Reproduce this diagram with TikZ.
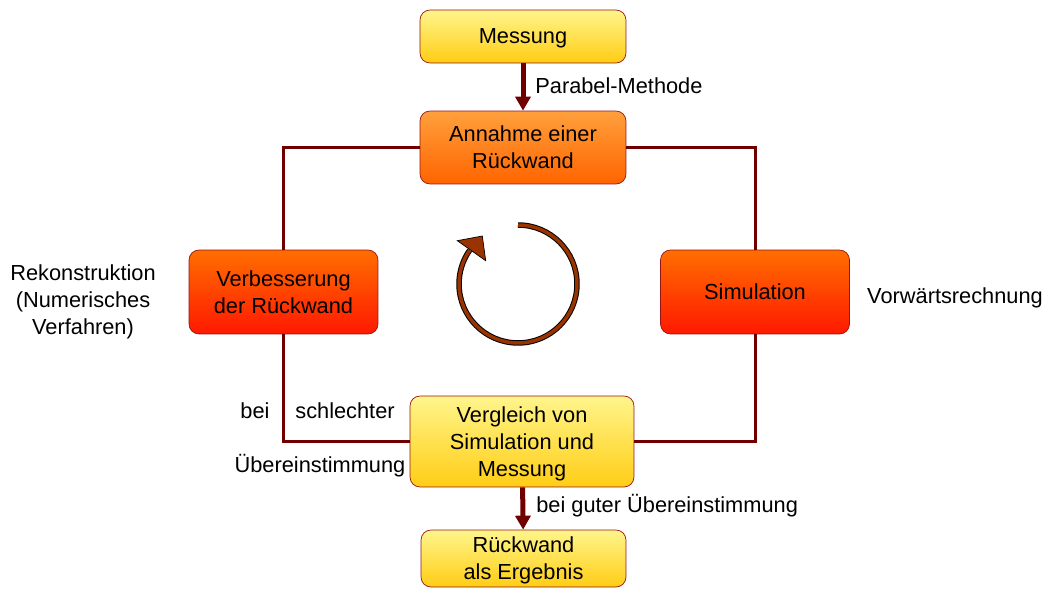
\documentclass[tikz,border=0pt]{standalone}
\usepackage{fontspec}
\setmainfont{Liberation Sans}
\usetikzlibrary{arrows.meta}
\definecolor{linered}{RGB}{112,0,0}
\definecolor{boxedge}{RGB}{150,20,20}
\definecolor{yelltop}{RGB}{255,245,140}
\definecolor{yellbot}{RGB}{255,205,20}
\definecolor{orgtop}{RGB}{255,160,60}
\definecolor{orgbot}{RGB}{255,100,0}
\definecolor{redtop}{RGB}{255,110,0}
\definecolor{redbot}{RGB}{255,25,0}
\definecolor{ringbrown}{RGB}{153,51,0}
\tikzset{
 box/.style={draw=boxedge, thin, rounded corners=0.2cm, align=center, inner sep=0pt, text depth=0pt},
 yellowbox/.style={box, top color=yelltop, bottom color=yellbot},
 orangebox/.style={box, top color=orgtop, bottom color=orgbot},
 redbox/.style={box, top color=redtop, bottom color=redbot, minimum width=3.78cm, minimum height=1.68cm},
 loopline/.style={draw=linered, line width=0.06cm},
 flow/.style={draw=linered, line width=0.1cm, -{Triangle[length=0.28cm,width=0.3cm]}},
 lbl/.style={align=center, inner sep=0pt}
}
\begin{document}
\begin{tikzpicture}[x=0.02cm,y=0.02cm,font=\fontsize{12.4}{15.4}\selectfont]
 \useasboundingbox (0,0) rectangle (1050,-588);
 % Kasten
 \node[yellowbox, minimum width=4.12cm, minimum height=1.06cm] (mess) at (523,-36.5) {Messung};
 \node[orangebox, minimum width=4.12cm, minimum height=1.46cm] (ann) at (523,-147.5) {Annahme einer\\Rückwand};
 \node[redbox] (verb) at (283.5,-292) {Verbesserung\\der Rückwand};
 \node[redbox] (sim) at (755,-292) {Simulation};
 \node[yellowbox, minimum width=4.48cm, minimum height=1.82cm] (vergl) at (522,-441.5) {Vergleich von\\Simulation und\\Messung};
 \node[yellowbox, minimum width=4.1cm, minimum height=1.14cm] (erg) at (523.5,-558.5) {Rückwand\\als Ergebnis};
 % Schleife
 \draw[loopline] (ann.west) -| (verb.north);
 \draw[loopline] (ann.east) -| (sim.north);
 \draw[loopline] (sim.south) |- (vergl.east);
 \draw[loopline] (vergl.west) -| (verb.south);
 \draw[flow] (mess) -- (ann);
 \draw[flow] (vergl) -- (erg);
 % Kreispfeil
 \draw[black, line width=0.11cm] (518,-225) arc[start angle=90, end angle=-215, radius=1.18cm];
 \draw[ringbrown, line width=0.07cm] (518,-225) arc[start angle=90, end angle=-215, radius=1.18cm];
 \draw[fill=ringbrown, thin] (457.3,-240.7)--(482.3,-236)--(485.7,-260.7)--cycle;
 % Beschriftung
 \node[lbl, anchor=west] (parab) at (535,-86) {Parabel-Methode};
 \node[lbl] (rekon) at (83,-302) {Rekonstruktion\\(Numerisches\\Verfahren)};
 \node[lbl] (vorw) at (955,-298) {Vorwärtsrechnung};
 \node[lbl] (bei) at (255,-411) {bei};
 \node[lbl] (schl) at (345,-411) {schlechter};
 \node[lbl] (ueber) at (320,-466) {Übereinstimmung};
 \node[lbl, anchor=west] (gut) at (536,-506) {bei guter Übereinstimmung};
\end{tikzpicture}
\end{document}
